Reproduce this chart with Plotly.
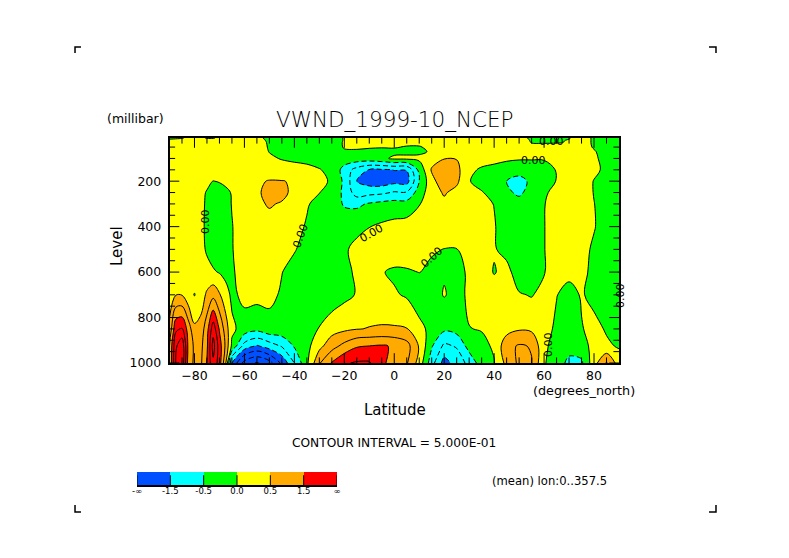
import plotly.graph_objects as go

# latitude columns, finer over the two polar peaks
lat = [-90, -87.5, -85, -82.5, -80, -77.5, -75, -72.5, -70, -67.5, -65,
       -60, -55, -50, -45, -40, -35, -30, -25, -20, -15, -10, -5,
       0, 5, 10, 15, 20, 25, 30, 35, 40, 45, 50, 55, 60, 65, 70, 75, 80, 85, 90]
level = [10, 20, 30, 50, 70, 100, 150, 200, 250, 300, 400, 500, 600, 700, 850, 925, 1000]

# values, one list per pressure level
v10 = [-.05, -.03, -.02, .05, .1, .05, -.02, -.02, .05, .1, .15,
       .2, .1, -.1, -.2, -.2, -.2, -.2, -.15, .02, .15, .15, .15,
       .2, .2, .2, .2, .2, .2, .2, .2, .2, .15, .1, -.05, -.1, -.1, -.02, .15, -.05, -.2, -.2]
v20 = [.05, .05, .1, .15, .15, .15, .1, .1, .15, .2, .2,
       .2, .1, -.05, -.2, -.2, -.2, -.2, -.15, .02, .15, .15, .15,
       .2, .2, .2, .25, .25, .25, .25, .25, .25, .2, .1, -.02, -.05, -.05, .02, .15, -.05, -.2, -.2]
v30 = [.1, .1, .15, .15, .2, .2, .15, .15, .2, .2, .25,
       .2, .1, -.03, -.2, -.2, -.2, -.2, -.15, .03, .1, .1, .1,
       .15, .1, .1, .2, .3, .3, .3, .3, .25, .2, .1, -.01, -.02, -.02, .02, .15, -.05, -.2, -.2]
v50 = [.1, .15, .15, .2, .2, .2, .2, .2, .2, .25, .25,
       .25, .1, -.02, -.2, -.2, -.2, -.2, -.2, .03, .05, .03, .02,
       .03, -.03, -.03, .1, .3, .35, .3, .3, .25, .2, .15, .1, .1, .15, .2, .15, -.03, -.2, -.2]
v70 = [.1, .15, .2, .2, .2, .2, .2, .2, .2, .25, .25,
       .25, .15, -.01, -.2, -.2, -.2, -.2, -.2, -.05, -.05, -.08, -.1,
       -.1, -.1, -.08, .05, .35, .4, .3, .3, .25, .2, .15, .15, .15, .2, .2, .2, .03, -.15, -.2]
v100 = [.15, .2, .2, .2, .25, .25, .25, .25, .25, .25, .25,
        .25, .2, .05, -.02, -.1, -.1, -.15, -.2, -.2, -.2, -.2, -.1,
        .08, .1, .1, .3, .48, .48, .3, .15, .1, .05, .03, .03, .03, .1, .2, .2, .05, -.1, -.2]
v150 = [.15, .2, .2, .2, .25, .25, .25, .25, .25, .25, .25,
        .25, .3, .3, .15, .2, .1, .02, -.1, -.7, -1.2, -1.53, -1.55,
        -1.49, -1.48, -.35, .55, .85, .65, .08, -.05, -.1, -.15, -.2, -.2, -.15, .02, .2, .25, .1, -.1, -.2]
v200 = [.2, .25, .25, .25, .25, .2, .1, -.01, .03, .1, .2,
        .3, .45, .52, .52, .45, .2, .1, -.05, -.6, -1.5, -1.75, -1.8,
        -1.65, -1.7, -.5, .35, .8, .6, .02, -.15, -.2, -.5, -.75, -.35, -.25, .02, .2, .25, -.02, -.2, -.25]
v250 = [.2, .25, .25, .25, .2, .1, -.03, -.15, -.2, -.1, .03,
        .3, .4, .7, .65, .35, .15, .01, -.2, -.6, -1.25, -1.15, -1.1,
        -.95, -.95, -.25, .3, .55, .35, .1, .03, -.15, -.4, -.6, -.3, -.05, .1, .2, .25, -.02, -.2, -.25]
v300 = [.2, .25, .25, .25, .2, .1, -.06, -.2, -.25, -.15, .02,
        .25, .4, .55, .45, .2, .03, -.1, -.25, -.55, -.6, -.45, -.35,
        -.3, -.3, -.03, .3, .4, .3, .2, .1, -.01, -.2, -.3, -.2, -.01, .1, .2, .25, .01, -.2, -.25]
v400 = [.2, .25, .25, .25, .2, .1, -.08, -.2, -.25, -.2, -.02,
        .25, .3, .3, .25, .1, -.03, -.15, -.2, -.2, -.1, -.01, .08,
        .15, .2, .3, .3, .3, .25, .2, .1, .03, -.2, -.3, -.2, -.01, .15, .2, .2, .02, -.15, -.2]
v500 = [.2, .25, .25, .25, .2, .1, -.04, -.2, -.25, -.2, -.02,
        .2, .25, .25, .15, .03, -.15, -.25, -.25, -.05, .1, .2, .25,
        .3, .3, .25, .05, -.01, -.01, .15, .2, .04, -.15, -.3, -.2, -.01, .15, .2, .1, -.05, -.15, -.2]
v600 = [.25, .3, .3, .3, .25, .2, .1, .05, -.03, -.15, -.03,
        .1, .2, .1, .01, -.15, -.3, -.3, -.3, -.1, .06, .1, .03,
        -.08, -.06, .01, -.1, -.04, -.1, .05, .25, -.03, .15, -.25, -.2, -.02, .15, .15, .1, -.1, -.2, -.2]
v700 = [.3, .48, .48, .15, -.02, .2, .6, .85, .55, .2, -.1,
        .12, .14, .1, -.05, -.35, -.35, -.35, -.3, -.12, .03, .2, .15,
        .06, -.06, -.2, -.2, .03, -.15, .08, .25, .25, .2, .04, -.03, .15, .02, -.2, .05, -.15, -.25, -.25]
v850 = [.6, 1.9, 2.05, 1.3, .6, .7, 1.3, 2.3, 1.45, .75, .1,
        -.2, -.35, -.15, -.15, -.2, -.12, .02, .3, .4, .48, .52, .55,
        .55, .52, .1, -.1, -.4, -.3, -.01, .02, .25, .3, .45, .4, .2, -.1, -.25, -.03, .15, -.05, -.1]
v925 = [1.0, 2.4, 2.9, 1.4, .9, .85, 1.4, 2.7, 1.75, .9, -.1,
        -1.2, -1.55, -1.25, -.95, -.45, -.15, .35, .8, 1.15, 1.45, 1.5, 1.55,
        1.45, 1.2, .45, -.45, -1.1, -.95, -.3, -.1, .05, .85, 1.05, .97, .1, -.2, -.35, -.25, .2, .08, -.05]
v1000 = [1.0, 2.5, 2.95, 1.3, .9, .9, 1.55, 2.4, 1.75, .55, -1.55,
         -2.7, -3.05, -2.7, -1.9, -1.0, -.1, .95, 1.55, 1.95, 2.05, 2.05, 1.55,
         1.4, 1.05, .3, -.8, -1.7, -1.3, -.85, -.25, -.02, .65, 1.1, 1.02, .05, -.3, -.6, -.58, .3, 1.05, .25]
vwnd = [v10, v20, v30, v50, v70, v100, v150, v200, v250, v300, v400, v500, v600, v700, v850, v925, v1000]

band_edges = [-1.5, -0.5, 0.0, 0.5, 1.5]
band_colors = ["#0050ff", "#00ffff", "#00ff00", "#ffff00", "#ffaa00", "#ff0000"]
key_labels = ["-∞", "-1.5", "-0.5", "0.0", "0.5", "1.5", "∞"]
key_ticks = [0, 1, 2, 3, 4, 5, 6]

lat_ticks = [-80, -60, -40, -20, 0, 20, 40, 60, 80]
level_ticks = [200, 400, 600, 800, 1000]
lat_minor = [v for v in range(-85, 90, 5) if v not in lat_ticks]
level_minor = [v for v in range(50, 1000, 50) if v not in level_ticks]

# the page keeps its 8px body margin, so the figure is 16px smaller than the window
W, H = 773, 542
PAD = 8
FONT = "DejaVu Sans"


def fx(x):
    return (x - PAD) / W


def fy(y):
    return 1 - (y - PAD) / H


# plotly maps a fill colorscale onto start - size/2 .. end + size/2
def stop(z):
    return (z + 4.25) / 8.5


def tick_marks(x, y, symbol, size, xaxis="x", yaxis="y"):
    # centred line markers, the half outside the axes gets clipped
    return go.Scatter(x=x, y=y, mode="markers", xaxis=xaxis, yaxis=yaxis, hoverinfo="skip",
                      marker=dict(symbol=symbol, size=size, color="black", line=dict(color="black", width=1)))


scale = []
lo = 0
for edge, col in zip(band_edges + [None], band_colors):
    hi = 1 if edge is None else stop(edge)
    scale.append([lo, col])
    scale.append([hi, col])
    lo = hi

fig = go.Figure()

fig.add_trace(go.Contour(x=lat, y=level, z=vwnd, colorscale=scale, showscale=False,
                         autocontour=False, hoverinfo="skip",
                         contours=dict(start=-4, end=4, size=0.5, coloring="fill", showlines=False),
                         line=dict(width=0)))
# negative contours dashed, the rest solid
fig.add_trace(go.Contour(x=lat, y=level, z=vwnd, showscale=False, autocontour=False, hoverinfo="skip",
                         contours=dict(start=-4, end=-0.5, size=0.5, coloring="none"),
                         line=dict(color="black", width=1, dash="5px,3px")))
fig.add_trace(go.Contour(x=lat, y=level, z=vwnd, showscale=False, autocontour=False, hoverinfo="skip",
                         contours=dict(start=0, end=4, size=0.5, coloring="none"),
                         line=dict(color="black", width=1)))

# ticks on all four sides
for y_edge in (1000, 10):
    fig.add_trace(tick_marks(lat_ticks, [y_edge] * len(lat_ticks), "line-ns", 14))
    fig.add_trace(tick_marks(lat_minor, [y_edge] * len(lat_minor), "line-ns", 8))
for x_edge in (-90, 90):
    fig.add_trace(tick_marks([x_edge] * len(level_ticks), level_ticks, "line-ew", 14))
    fig.add_trace(tick_marks([x_edge] * len(level_minor), level_minor, "line-ew", 8))

# colour key under the plot
key_scale = []
for i, col in enumerate(band_colors):
    key_scale.append([i / 6, col])
    key_scale.append([(i + 1) / 6, col])
fig.add_trace(go.Heatmap(x=[0.5, 1.5, 2.5, 3.5, 4.5, 5.5], y=[0], z=[[0.5, 1.5, 2.5, 3.5, 4.5, 5.5]],
                         zmin=0, zmax=6, colorscale=key_scale, showscale=False, hoverinfo="skip",
                         xaxis="x2", yaxis="y2"))
fig.add_trace(tick_marks(key_ticks, [-0.5] * len(key_ticks), "line-ns", 14, "x2", "y2"))

fig.update_layout(
    width=W, height=H, margin=dict(l=0, r=0, t=0, b=0, autoexpand=False),
    paper_bgcolor="white", plot_bgcolor="white", showlegend=False,
    font=dict(family=FONT, color="black"),
    xaxis=dict(domain=[fx(169.5), fx(619)], range=[-90, 90], tickvals=lat_ticks, ticks="",
               showgrid=False, zeroline=False, showline=True, linecolor="black", linewidth=1.5,
               mirror=True, tickfont=dict(size=12.5), automargin=False, anchor="y"),
    yaxis=dict(domain=[fy(363), fy(138)], range=[1000, 10], tickvals=level_ticks, ticks="",
               showgrid=False, zeroline=False, showline=True, linecolor="black", linewidth=1.5,
               mirror=True, tickfont=dict(size=12.5), ticklabelstandoff=4, automargin=False, anchor="x"),
    xaxis2=dict(domain=[fx(137), fx(337)], range=[0, 6], tickvals=key_ticks, ticktext=key_labels, ticks="",
                showgrid=False, zeroline=False, showline=True, linecolor="black", linewidth=1.5,
                tickfont=dict(size=8.5), ticklabelstandoff=-3, automargin=False, anchor="y2"),
    yaxis2=dict(domain=[fy(485), fy(472)], range=[-0.5, 0.5], showticklabels=False, ticks="",
                showgrid=False, zeroline=False, automargin=False, anchor="x2"),
)

texts = [
    ("VWND_1999-10_NCEP", 394.5, 119, 21.5, 0, "DejaVu Sans Light"),
    ("(millibar)", 135.5, 118, 12.5, 0, FONT),
    ("Latitude", 395, 410, 15, 0, FONT),
    ("Level", 117, 246, 15, -90, FONT),
    ("(degrees_north)", 583.5, 390, 12.8, 0, FONT),
    ("CONTOUR INTERVAL = 5.000E-01", 394, 443, 12.2, 0, FONT),
    ("(mean) lon:0..357.5", 549, 481, 11.6, 0, FONT),
    # zero labels along the contours
    ("0.00", 205, 222, 11, -90, FONT),
    ("0.00", 300, 236, 11, -70, FONT),
    ("0.00", 371, 233, 11, -30, FONT),
    ("0.00", 432, 258, 11, -42, FONT),
    ("0.00", 533, 160, 11, 0, FONT),
    ("0.00", 551, 141, 11, 0, FONT),
    ("0.00", 548, 345, 11, -90, FONT),
    ("0.00", 620, 296, 11, -90, FONT),
]
for t, x, y, size, angle, family in texts:
    fig.add_annotation(text=t, x=fx(x), y=fy(y), xref="paper", yref="paper", showarrow=False,
                       xanchor="center", yanchor="middle", textangle=angle, font=dict(size=size, family=family))

# page corner marks
corners = [
    [(75, 53), (75, 47), (81, 47)],
    [(709, 47), (716, 47), (716, 53)],
    [(75, 505), (75, 512), (81, 512)],
    [(709, 512), (716, 512), (716, 505)],
]
for c in corners:
    path = "M" + " L".join(f"{fx(x):.4f},{fy(y):.4f}" for x, y in c)
    fig.add_shape(type="path", path=path, xref="paper", yref="paper", line=dict(color="black", width=1.5))

fig.write_html("out.html")
